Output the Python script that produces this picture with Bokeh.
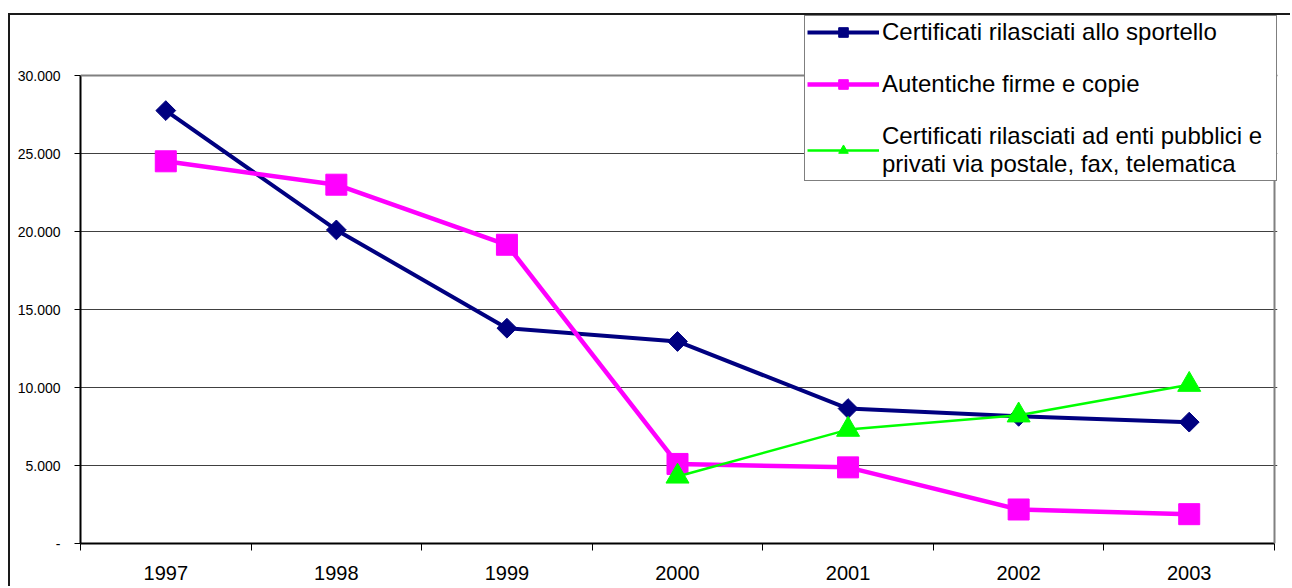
import numpy as np
from bokeh.plotting import figure
from bokeh.models import (Range1d, FixedTicker, Legend, LegendItem, Span,
                          ColumnDataSource)
from bokeh.embed import file_html
from bokeh.resources import INLINE

# ---- data ----
years = ["1997", "1998", "1999", "2000", "2001", "2002", "2003"]
sportello = [27750, 20100, 13800, 12950, 8650, 8150, 7780]
autentiche = [24500, 23000, 19150, 5100, 4880, 2180, 1880]
enti = [np.nan, np.nan, np.nan, 4300, 7300, 8220, 10180]
y_ticks = [0, 5000, 10000, 15000, 20000, 25000, 30000]
labels = ["Certificati rilasciati allo sportello",
          "Autentiche firme e copie",
          "Certificati rilasciati ad enti pubblici e\nprivati via postale, fax, telematica"]

FONT = "Liberation Sans"
n = len(years)
xpos = [i + 0.5 for i in range(n)]
ymax = y_ticks[-1]

# layout (page pixels)
OX, OY = 8, 13            # outer chart frame corner (CSS border, 2px)
BW = 2
CX, CY = OX + BW, OY + BW  # canvas origin
FL, FR, FT, FB = 80, 1277, CY, 543   # plot frame edges
PLOT_RIGHT, PLOT_TOP = 1274, 75      # inner plot area right/top
W, H = 1292 - CX, 588 - CY

x_end = n * (FR - FL) / (PLOT_RIGHT - FL)
y_end = ymax * (FB - FT) / (FB - PLOT_TOP)

src = ColumnDataSource(dict(x=xpos, a=sportello, b=autentiche, c=enti))

p = figure(width=W, height=H, output_backend="svg", toolbar_location=None,
           x_range=Range1d(0, x_end), y_range=Range1d(0, y_end),
           min_border_left=FL - CX, min_border_top=FT - CY,
           min_border_right=1292 - FR, min_border_bottom=588 - FB)
p.margin = (OY, 0, 0, OX)
p.styles = {"border-top": f"{BW}px solid #1a1a1a", "border-left": f"{BW}px solid #1a1a1a"}
p.background_fill_color = "white"
p.border_fill_color = "white"
p.outline_line_color = None

# grid
p.xgrid.grid_line_color = None
p.ygrid.grid_line_color = "#404040"
p.ygrid.grid_line_width = 1
p.add_layout(Span(location=ymax, dimension="width", line_color="#808080", line_width=2))
p.add_layout(Span(location=n, dimension="height", line_color="#808080", line_width=2))

# x axis
xa = p.xaxis[0]
xa.bounds = (0, n)
xa.ticker = FixedTicker(ticks=xpos, minor_ticks=list(range(n + 1)))
xa.major_label_overrides = {x: y for x, y in zip(xpos, years)}
xa.major_tick_out = 0
xa.major_tick_in = 0
xa.minor_tick_out = 7
xa.minor_tick_in = 0
xa.minor_tick_line_color = "black"
xa.axis_line_color = "black"
xa.axis_line_width = 2
xa.major_label_text_font = FONT
xa.major_label_text_font_size = "20px"
xa.major_label_text_color = "black"
xa.major_label_standoff = 15

# y axis
ya = p.yaxis[0]
ya.bounds = (0, ymax)
ya.ticker = FixedTicker(ticks=y_ticks, minor_ticks=[])
ya.major_label_overrides = {t: ("-" if t == 0 else f"{t:,}".replace(",", ".")) for t in y_ticks}
ya.major_tick_out = 6
ya.major_tick_in = 0
ya.minor_tick_out = 0
ya.minor_tick_in = 0
ya.axis_line_color = "black"
ya.axis_line_width = 2
ya.major_label_text_font = FONT
ya.major_label_text_font_size = "14px"
ya.major_label_text_color = "black"
ya.major_label_standoff = 14

# series
l1 = p.line("x", "a", source=src, line_color="#000080", line_width=4)
s1 = p.scatter("x", "a", source=src, marker="square", angle=np.pi / 4, size=14,
               fill_color="#000080", line_color="#000080")
l2 = p.line("x", "b", source=src, line_color="#FF00FF", line_width=4.5)
s2 = p.scatter("x", "b", source=src, marker="square", size=21,
               fill_color="#FF00FF", line_color="#FF00FF")
l3 = p.line("x", "c", source=src, line_color="#00FF00", line_width=2.5)
s3 = p.scatter("x", "c", source=src, marker="triangle", size=23,
               fill_color="#00FF00", line_color="#00FF00")

legend = Legend(items=[LegendItem(label=labels[0], renderers=[l1, s1]),
                       LegendItem(label=labels[1], renderers=[l2, s2]),
                       LegendItem(label=labels[2], renderers=[l3, s3])],
                location="top_right")
legend.label_text_font = FONT
legend.label_text_font_size = "24px"
legend.label_text_line_height = 1.0
legend.label_text_color = "black"
legend.glyph_width = 72
legend.glyph_height = 24
legend.label_height = 24
legend.label_width = 392
legend.label_standoff = 3
legend.spacing = 24
legend.padding = 2
legend.margin = 0
legend.border_line_color = "black"
legend.border_line_width = 1
legend.background_fill_color = "white"
legend.background_fill_alpha = 1
p.add_layout(legend)

open("out.html", "w").write(file_html(p, INLINE))
